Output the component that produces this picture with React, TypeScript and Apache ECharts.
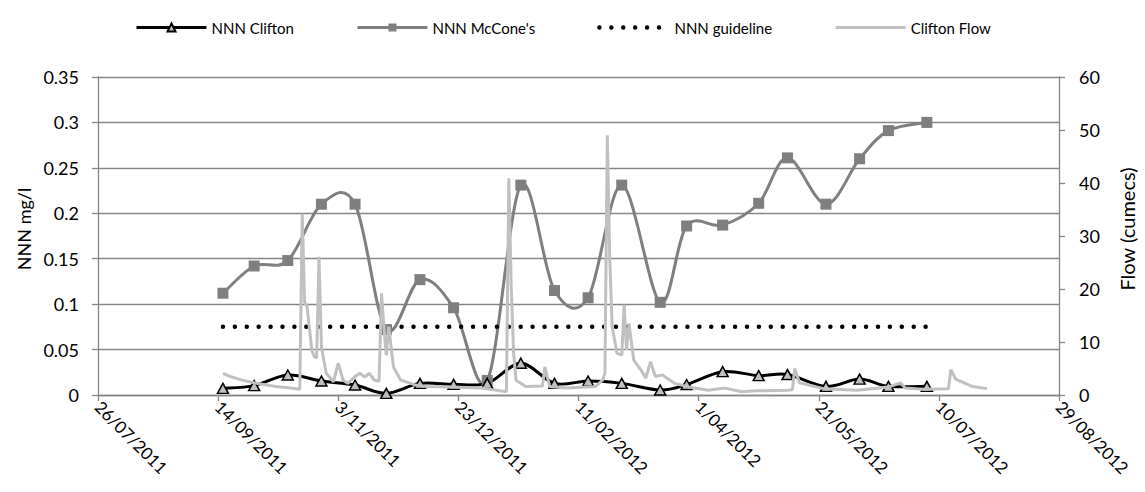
import React, { useEffect, useRef } from "react";
import * as echarts from "echarts";

const BASE_DATE = "2011-07-26";
const AXIS_END_DAYS = 400;
const TICK_DAYS = 50;

const sampleDates = [
  "2011-09-16", "2011-09-29", "2011-10-13", "2011-10-27", "2011-11-10", "2011-11-23",
  "2011-12-07", "2011-12-21", "2012-01-04", "2012-01-18", "2012-02-01", "2012-02-15",
  "2012-02-29", "2012-03-16", "2012-03-27", "2012-04-11", "2012-04-26", "2012-05-08",
  "2012-05-24", "2012-06-07", "2012-06-19", "2012-07-05",
];

const nnnClifton = [
  0.0073, 0.0103, 0.022, 0.0154, 0.011, 0.0018, 0.0128, 0.0117, 0.0128, 0.035, 0.0128,
  0.0154, 0.0128, 0.0055, 0.0115, 0.0257, 0.0213, 0.0225, 0.0095, 0.0175, 0.0095, 0.0095,
];

const nnnMcCones = [
  0.112, 0.142, 0.148, 0.21, 0.21, 0.072, 0.127, 0.096, 0.016, 0.231, 0.115,
  0.107, 0.231, 0.102, 0.186, 0.187, 0.211, 0.261, 0.21, 0.26, 0.291, 0.3,
];

const nnnGuideline = [
  0.075, 0.075, 0.075, 0.075, 0.075, 0.075, 0.075, 0.075, 0.075, 0.075, 0.075,
  0.075, 0.075, 0.075, 0.075, 0.075, 0.075, 0.075, 0.075, 0.075, 0.075, 0.075,
];

const flowDates = [
  "2011-09-16", "2011-09-19", "2011-09-24", "2011-09-30", "2011-10-08", "2011-10-14",
  "2011-10-18", "2011-10-19", "2011-10-20", "2011-10-21", "2011-10-23", "2011-10-24",
  "2011-10-25", "2011-10-26", "2011-10-27", "2011-10-29", "2011-11-01", "2011-11-03",
  "2011-11-05", "2011-11-07", "2011-11-10", "2011-11-12", "2011-11-14", "2011-11-16",
  "2011-11-18", "2011-11-20", "2011-11-21", "2011-11-22", "2011-11-23", "2011-11-24",
  "2011-11-26", "2011-11-29", "2011-12-05", "2011-12-10", "2011-12-20", "2012-01-02",
  "2012-01-12", "2012-01-13", "2012-01-14", "2012-01-15", "2012-01-16", "2012-01-20",
  "2012-01-27", "2012-01-28", "2012-01-30", "2012-02-06", "2012-02-18", "2012-02-21",
  "2012-02-22", "2012-02-23", "2012-02-24", "2012-02-25", "2012-02-27", "2012-02-29",
  "2012-03-01", "2012-03-02", "2012-03-03", "2012-03-05", "2012-03-08", "2012-03-10",
  "2012-03-12", "2012-03-14", "2012-03-17", "2012-03-19", "2012-03-22", "2012-03-29",
  "2012-04-05", "2012-04-12", "2012-04-19", "2012-04-25", "2012-05-08", "2012-05-10",
  "2012-05-11", "2012-05-13", "2012-05-23", "2012-06-06", "2012-06-19", "2012-06-24",
  "2012-06-26", "2012-07-03", "2012-07-14", "2012-07-15", "2012-07-17", "2012-07-24",
  "2012-07-30",
];

const flowValues = [
  4.1, 3.5, 2.8, 2.2, 1.6, 1.3, 1.1, 34.2, 17.5, 16.7, 8.5, 7.2, 7.0, 26.1, 9.1, 4.1,
  2.5, 6.0, 2.8, 2.2, 3.5, 4.1, 3.4, 4.1, 2.8, 2.6, 19.2, 12.9, 7.5, 12.9, 5.3, 2.8,
  1.9, 1.6, 1.5, 1.3, 0.6, 40.9, 20.4, 7.9, 2.8, 1.6, 1.7, 5.3, 1.6, 1.3, 1.6, 2.8,
  4.1, 49.0, 26.0, 12.9, 7.9, 7.5, 17.0, 8.5, 13.5, 6.6, 4.7, 3.2, 6.3, 3.5, 3.8, 3.1,
  2.2, 1.4, 0.9, 1.3, 0.6, 0.8, 0.9, 1.0, 5.0, 2.3, 1.2, 0.9, 1.5, 2.3, 1.3, 1.1,
  1.2, 4.8, 3.0, 1.6, 1.2,
];

const DAY_MS = 86400000;
function utc(s: string) {
  const [y, m, d] = s.split("-").map(Number);
  return Date.UTC(y, m - 1, d);
}
const BASE_MS = utc(BASE_DATE);
const toDay = (s: string) => Math.round((utc(s) - BASE_MS) / DAY_MS);
const pad2 = (n: number) => (n < 10 ? "0" + n : "" + n);
const fmtDay = (v: number) => {
  const dt = new Date(BASE_MS + v * DAY_MS);
  return `${dt.getUTCDate()}/${pad2(dt.getUTCMonth() + 1)}/${dt.getUTCFullYear()}`;
};

// Excel-like smoothed line (Catmull-Rom through the data points, in pixel space)
function smoothPath(pts: number[][]) {
  let d = `M${pts[0][0]},${pts[0][1]}`;
  for (let i = 0; i < pts.length - 1; i++) {
    const p0 = pts[i - 1] || pts[i];
    const p1 = pts[i];
    const p2 = pts[i + 1];
    const p3 = pts[i + 2] || p2;
    const c1x = p1[0] + (p2[0] - p0[0]) / 6;
    const c1y = p1[1] + (p2[1] - p0[1]) / 6;
    const c2x = p2[0] - (p3[0] - p1[0]) / 6;
    const c2y = p2[1] - (p3[1] - p1[1]) / 6;
    d += ` C${c1x},${c1y} ${c2x},${c2y} ${p2[0]},${p2[1]}`;
  }
  return d;
}

const FONT = "Lato";
const AXIS_GRAY = "#868686";
const DOT_DASH = [0.01, 11.9];
const CLIFTON_COLOR = "#000000";
const MCCONE_COLOR = "#7f7f7f";
const FLOW_COLOR = "#c0c0c0";

function curveSeries(name: string, data: number[][], color: string, z: number) {
  return {
    name,
    type: "custom",
    coordinateSystem: "cartesian2d",
    yAxisIndex: 0,
    data,
    encode: { x: 0, y: 1 },
    clip: false,
    silent: true,
    z,
    renderItem: (params: any, api: any) => {
      if (params.dataIndex !== 0) return null;
      const pts = data.map((p) => api.coord(p));
      return {
        type: "path",
        shape: { pathData: smoothPath(pts) },
        style: { fill: "none", stroke: color, lineWidth: 3, lineJoin: "round" },
      };
    },
  };
}

export default function App() {
  const ref = useRef<HTMLDivElement>(null);

  useEffect(() => {
    if (!ref.current) return;
    const chart = echarts.init(ref.current, undefined, { renderer: "svg" });

    const clifton = sampleDates.map((d, i) => [toDay(d), nnnClifton[i]]);
    const mccone = sampleDates.map((d, i) => [toDay(d), nnnMcCones[i]]);
    const guide = sampleDates.map((d, i) => [toDay(d), nnnGuideline[i]]);
    const flow = flowDates.map((d, i) => [toDay(d), flowValues[i]]);

    chart.setOption({
      animation: false,
      backgroundColor: "#ffffff",
      textStyle: { fontFamily: FONT },
      legend: {
        top: 15,
        left: 130,
        itemWidth: 70,
        itemHeight: 10,
        itemGap: 62,
        textStyle: { fontSize: 15, color: "#000", fontFamily: FONT },
        data: [
          { name: "NNN Clifton", lineStyle: { width: 3, color: CLIFTON_COLOR, opacity: 1 } },
          { name: "NNN McCone's", lineStyle: { width: 3, color: MCCONE_COLOR, opacity: 1 } },
          {
            name: "NNN guideline",
            itemStyle: { opacity: 0 },
            lineStyle: { width: 4.5, type: DOT_DASH, cap: "round", color: "#000", opacity: 1 },
          },
          {
            name: "Clifton Flow",
            itemStyle: { opacity: 0 },
            lineStyle: { width: 3, color: FLOW_COLOR, opacity: 1 },
          },
        ],
      },
      grid: { left: 98, right: 78, top: 77, bottom: 97 },
      xAxis: {
        type: "value",
        min: 0,
        max: AXIS_END_DAYS,
        interval: TICK_DAYS,
        splitLine: { show: false },
        axisLine: { show: true, lineStyle: { color: AXIS_GRAY, width: 1.3 } },
        axisTick: { show: true, length: 6, lineStyle: { color: AXIS_GRAY, width: 1.3 } },
        axisLabel: {
          rotate: -45,
          margin: 9,
          fontSize: 17,
          color: "#000",
          fontFamily: FONT,
          formatter: (v: number) => fmtDay(v),
        },
      },
      yAxis: [
        {
          type: "value",
          position: "left",
          min: 0,
          max: 0.35,
          interval: 0.05,
          name: "NNN mg/l",
          nameLocation: "middle",
          nameGap: 61,
          nameTextStyle: { fontSize: 18, color: "#000", fontFamily: FONT, padding: [0, 0, 0, 14] },
          axisLine: { show: true, lineStyle: { color: AXIS_GRAY, width: 1.3 } },
          axisTick: { show: true, length: 6, lineStyle: { color: AXIS_GRAY, width: 1.3 } },
          splitLine: { show: true, lineStyle: { color: AXIS_GRAY, width: 1.3 } },
          axisLabel: { margin: 19, fontSize: 18, color: "#000", fontFamily: FONT },
        },
        {
          type: "value",
          position: "right",
          min: 0,
          max: 60,
          interval: 10,
          name: "Flow (cumecs)",
          nameLocation: "middle",
          nameGap: 58,
          nameTextStyle: { fontSize: 20, color: "#000", fontFamily: FONT, padding: [0, 0, 0, 14] },
          axisLine: { show: true, lineStyle: { color: AXIS_GRAY, width: 1.3 } },
          axisTick: { show: true, length: 6, lineStyle: { color: AXIS_GRAY, width: 1.3 } },
          splitLine: { show: false },
          axisLabel: { margin: 20, fontSize: 18, color: "#000", fontFamily: FONT },
        },
      ],
      series: [
        curveSeries("McCone curve", mccone, MCCONE_COLOR, 2),
        {
          name: "NNN guideline",
          type: "line",
          yAxisIndex: 0,
          data: guide,
          symbol: "none",
          itemStyle: { color: "#000" },
          lineStyle: { color: "#000", width: 4.5, type: DOT_DASH, cap: "round" },
          z: 2,
        },
        curveSeries("Clifton curve", clifton, CLIFTON_COLOR, 3),
        {
          name: "NNN McCone's",
          type: "line",
          yAxisIndex: 0,
          data: mccone,
          symbol: "rect",
          symbolSize: 11,
          showAllSymbol: true,
          itemStyle: { color: MCCONE_COLOR },
          lineStyle: { color: MCCONE_COLOR, width: 3, opacity: 0 },
          z: 4,
        },
        {
          name: "NNN Clifton",
          type: "line",
          yAxisIndex: 0,
          data: clifton,
          symbol: "triangle",
          symbolSize: [11, 10],
          showAllSymbol: true,
          itemStyle: { color: "#bfbfbf", borderColor: "#000", borderWidth: 1.5 },
          lineStyle: { color: CLIFTON_COLOR, width: 3, opacity: 0 },
          z: 4,
        },
        {
          name: "Clifton Flow",
          type: "line",
          yAxisIndex: 1,
          data: flow,
          symbol: "none",
          itemStyle: { color: FLOW_COLOR },
          lineStyle: { color: FLOW_COLOR, width: 3 },
          z: 5,
        },
      ],
    });

    return () => chart.dispose();
  }, []);

  return (
    <div
      ref={ref}
      style={{ position: "absolute", left: 0, top: 0, width: 1145, height: 492, background: "#fff" }}
    />
  );
}
